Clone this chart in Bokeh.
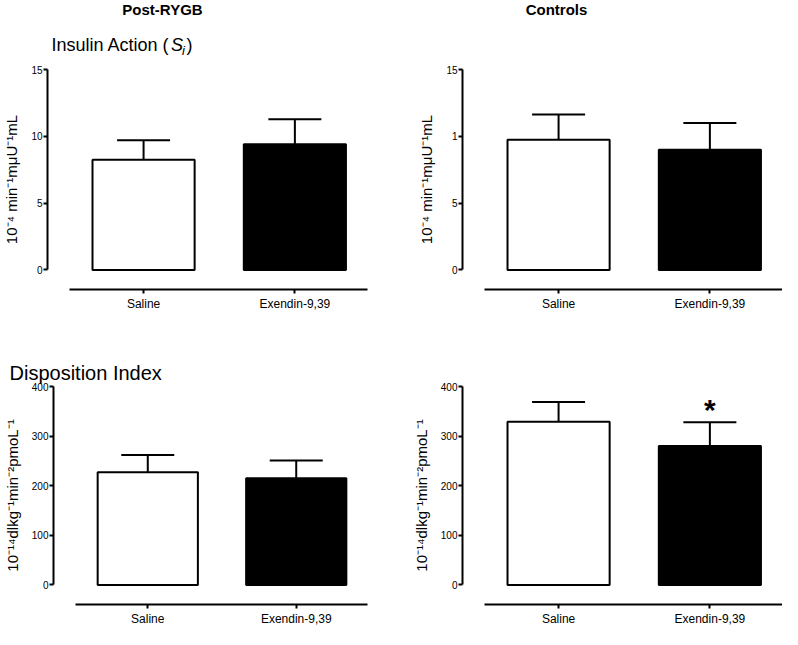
from bokeh.plotting import figure
from bokeh.models import ColumnDataSource, FixedTicker, Whisker, TeeHead, Range1d, Title
from bokeh.layouts import column, row
from bokeh.core.properties import value
from bokeh.embed import file_html
from bokeh.resources import INLINE

FONT = "Liberation Sans"

# ---- data ----
treatments = ["Saline", "Exendin-9,39"]

si_rygb_mean = [8.25, 9.4]
si_rygb_sem = [1.45, 1.88]
si_ctrl_mean = [9.75, 9.0]
si_ctrl_sem = [1.88, 2.0]

di_rygb_mean = [227, 215]
di_rygb_sem = [35, 36]
di_ctrl_mean = [329, 280]
di_ctrl_sem = [40, 48]

si_marks = ["", ""]
di_rygb_marks = ["", ""]
di_ctrl_marks = ["", "*"]

si_ticks = [0, 5, 10, 15]
si_tick_labels_rygb = ["0", "5", "10", "15"]
si_tick_labels_ctrl = ["0", "5", "1", "15"]
di_ticks = [0, 100, 200, 300, 400]
di_tick_labels = ["0", "100", "200", "300", "400"]

group_titles = ["Post-RYGB", "Controls"]
si_title = ["Insulin Action (", "S", "i", ")"]
di_title = "Disposition Index"

si_unit = "10\u207b\u2074 min\u207b\u00b9m\u03bcU\u207b\u00b9mL"
di_unit = "10\u207b\u00b9\u2074dlkg\u207b\u00b9min\u207b\u00b2pmoL\u207b\u00b9"

fills = ["white", "black"]

X0, X1 = -0.635, 1.48
TOTAL_W = 782
HEAD_H, TOP_H, BOT_H = 57, 279, 293
LW, RW = 400, 382


def panel(means, sems, marks, ticks, tick_labels, unit, y0, y1,
          width, height, mbl, mbr, mbt, mbb):
    p = figure(width=width, height=height, x_range=Range1d(X0, X1),
               y_range=Range1d(y0, y1), output_backend="svg",
               toolbar_location=None, min_border_left=mbl,
               min_border_right=mbr, min_border_top=mbt,
               min_border_bottom=mbb, title=None)
    p.grid.visible = False
    p.outline_line_color = None
    p.background_fill_color = "white"
    p.border_fill_color = "white"

    xs = list(range(len(treatments)))
    src = ColumnDataSource(dict(
        x=xs, mean=means,
        upper=[m + s for m, s in zip(means, sems)],
        fill=fills, mark=marks))
    p.vbar(x="x", top="mean", bottom=0, width=0.675, source=src,
           fill_color="fill", line_color="black", line_width=2)
    p.add_layout(Whisker(base="x", lower="mean", upper="upper", source=src,
                         line_width=2, line_color="black",
                         upper_head=TeeHead(size=53, line_width=2,
                                            line_color="black"),
                         lower_head=None))
    p.text(x="x", y="upper", text="mark", source=src, text_align="center",
           text_baseline="middle", y_offset=-13,
           text_font=value(FONT), text_font_size="30px",
           text_font_style="bold", text_color="black")

    xa = p.xaxis[0]
    xa.ticker = FixedTicker(ticks=xs)
    xa.major_label_overrides = {i: t for i, t in zip(xs, treatments)}
    xa.bounds = (-0.49, X1)
    ya = p.yaxis[0]
    ya.ticker = FixedTicker(ticks=ticks)
    ya.major_label_overrides = {t: l for t, l in zip(ticks, tick_labels)}
    ya.bounds = (0, y1)
    ya.axis_label = unit
    ya.axis_label_text_font = FONT
    ya.axis_label_text_font_size = "15px"
    ya.axis_label_text_font_style = "normal"
    ya.axis_label_text_color = "black"
    ya.axis_label_standoff = 8
    for ax in (xa, ya):
        ax.axis_line_width = 2
        ax.axis_line_color = "black"
        ax.major_tick_line_width = 2
        ax.major_tick_line_color = "black"
        ax.major_tick_out = 4
        ax.major_tick_in = 0
        ax.minor_tick_line_color = None
        ax.major_label_text_font = FONT
        ax.major_label_text_color = "black"
    xa.major_label_text_font_size = "12px"
    xa.major_label_standoff = 3
    ya.major_label_text_font_size = "10px"
    ya.major_label_standoff = 1
    return p


# header strip (group titles and first panel title)
head = figure(width=TOTAL_W, height=HEAD_H, x_range=Range1d(0, TOTAL_W),
              y_range=Range1d(HEAD_H, 0), output_backend="svg",
              toolbar_location=None, min_border=0)
head.axis.visible = False
head.grid.visible = False
head.outline_line_color = None
head.text(x=[162, 556], y=[9, 9], text=group_titles, text_align="center",
          text_baseline="middle", text_font=value(FONT),
          text_font_size="15px", text_font_style="bold", text_color="black")
head.text(x=[51, 186], y=[44, 44], text=[si_title[0], si_title[3]],
          text_baseline="middle", text_font=value(FONT),
          text_font_size="18px", text_color="black")
head.text(x=[170.5], y=[44], text=[si_title[1]], text_baseline="middle",
          text_font=value(FONT), text_font_size="18px",
          text_font_style="italic", text_color="black")
head.text(x=[181.5], y=[50], text=[si_title[2]], text_baseline="middle",
          text_font=value(FONT), text_font_size="13px",
          text_font_style="italic", text_color="black")

p1 = panel(si_rygb_mean, si_rygb_sem, si_marks, si_ticks, si_tick_labels_rygb,
           si_unit, -1.467, 15, LW, TOP_H, 47, 33, 12, 47)
p2 = panel(si_ctrl_mean, si_ctrl_sem, si_marks, si_ticks, si_tick_labels_ctrl,
           si_unit, -1.467, 15, RW, TOP_H, 62, 0, 12, 47)
p3 = panel(di_rygb_mean, di_rygb_sem, di_rygb_marks, di_ticks, di_tick_labels,
           di_unit, -39.5, 400, LW, BOT_H, 47, 33, 50, 25)
p4 = panel(di_ctrl_mean, di_ctrl_sem, di_ctrl_marks, di_ticks, di_tick_labels,
           di_unit, -39.5, 400, RW, BOT_H, 62, 0, 50, 25)

p3.add_layout(Title(text=di_title, align="left", offset=-44, standoff=6,
                    text_font=FONT, text_font_size="20px",
                    text_font_style="normal", text_color="black"),
              "above")

layout = column(head, row(p1, p2), row(p3, p4))
open("out.html", "w").write(file_html(layout, INLINE))
